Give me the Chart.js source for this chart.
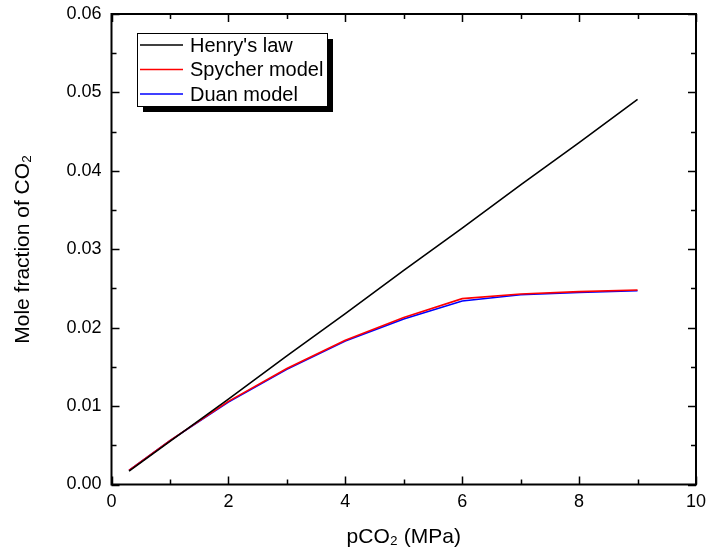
<!DOCTYPE html>
<html lang="en">
<head>
<meta charset="UTF-8">
<title>Mole fraction of CO2 vs pCO2</title>
<script src="https://cdn.jsdelivr.net/npm/chart.js"></script>
<style>
  html, body { margin: 0; padding: 0; background: #fff; }
</style>
</head>
<body>
<canvas id="myChart" width="706" height="556"></canvas>
<script>
// values
const pressure = [0.3, 1, 2, 3, 4, 5, 6, 7, 8, 9];
const henry = [0.0017, 0.0055, 0.0109, 0.0164, 0.0218, 0.0273, 0.0327, 0.0382, 0.0436, 0.0491];
const spycher = [0.0018, 0.0056, 0.0106, 0.0148, 0.0184, 0.0213, 0.0237, 0.0243, 0.0246, 0.0248];
const duan = [0.0018, 0.0056, 0.0105, 0.0147, 0.0183, 0.0211, 0.0234, 0.0242, 0.0245, 0.0247];
const seriesNames = ["Henry's law", 'Spycher model', 'Duan model'];
const xTicks = [0, 2, 4, 6, 8, 10];
const yTicks = [0, 0.01, 0.02, 0.03, 0.04, 0.05, 0.06];

const FONT = "'Liberation Sans', Arial, sans-serif";

function points(ys) {
  return pressure.map((p, i) => ({ x: p, y: ys[i] }));
}

// box frame with inward major/minor ticks on all four sides
const frameTicks = {
  id: 'frameTicks',
  afterDraw(chart) {
    const { ctx, chartArea: a, scales } = chart;
    const sx = scales.x, sy = scales.y;
    ctx.save();
    ctx.strokeStyle = '#000';
    ctx.lineWidth = 1.5;
    ctx.beginPath();
    for (let v = 0; v <= 10; v += 1) {
      const px = Math.round(sx.getPixelForValue(v)) + 0.5;
      const len = v % 2 === 0 ? 8 : 5;
      ctx.moveTo(px, a.bottom); ctx.lineTo(px, a.bottom - len);
      ctx.moveTo(px, a.top); ctx.lineTo(px, a.top + len);
    }
    for (let k = 0; k <= 12; k++) {
      const py = Math.round(sy.getPixelForValue(k * 0.005)) + 0.5;
      const len = k % 2 === 0 ? 8 : 5;
      ctx.moveTo(a.left, py); ctx.lineTo(a.left + len, py);
      ctx.moveTo(a.right, py); ctx.lineTo(a.right - len, py);
    }
    ctx.stroke();
    ctx.lineWidth = 2;
    ctx.strokeRect(a.left, a.top, a.right - a.left, a.bottom - a.top);
    ctx.restore();
  }
};

// legend box with drop shadow in the upper left
const boxLegend = {
  id: 'boxLegend',
  afterDraw(chart) {
    const ctx = chart.ctx;
    const x0 = 137, y0 = 33, w = 190, h = 73, sh = 6;
    ctx.save();
    ctx.fillStyle = '#000';
    ctx.fillRect(x0 + sh, y0 + sh, w, h);
    ctx.fillStyle = '#fff';
    ctx.fillRect(x0, y0, w, h);
    ctx.strokeStyle = '#000';
    ctx.lineWidth = 1;
    ctx.strokeRect(x0 + 0.5, y0 + 0.5, w, h);
    ctx.font = '20px ' + FONT;
    ctx.textBaseline = 'middle';
    chart.data.datasets.forEach((ds, i) => {
      const y = y0 + 12 + i * 24.5;
      ctx.strokeStyle = ds.borderColor;
      ctx.lineWidth = 1.5;
      ctx.beginPath();
      ctx.moveTo(x0 + 3, y); ctx.lineTo(x0 + 46, y);
      ctx.stroke();
      ctx.fillStyle = '#000';
      ctx.fillText(ds.label, x0 + 53, y + 1);
    });
    ctx.restore();
  }
};

const ctx = document.getElementById('myChart').getContext('2d');
const myChart = new Chart(ctx, {
  type: 'scatter',
  data: {
    datasets: [
      { label: seriesNames[0], data: points(henry), borderColor: '#000000' },
      { label: seriesNames[1], data: points(spycher), borderColor: '#ff0000' },
      { label: seriesNames[2], data: points(duan), borderColor: '#0000ff' }
    ]
  },
  options: {
    responsive: false,
    animation: false,
    devicePixelRatio: 1,
    showLine: true,
    elements: {
      line: { borderWidth: 1.6, tension: 0 },
      point: { radius: 0, hoverRadius: 0 }
    },
    layout: { padding: { top: 14, right: 10, left: 0, bottom: 0 } },
    plugins: {
      legend: { display: false },
      tooltip: { enabled: false }
    },
    scales: {
      x: {
        type: 'linear',
        min: 0,
        max: 10,
        afterBuildTicks: s => { s.ticks = xTicks.map(v => ({ value: v })); },
        afterFit: s => { s.height = 71.5; s.paddingLeft = 0; s.paddingRight = 0; },
        grid: { display: false, drawTicks: false },
        border: { display: false },
        ticks: { color: '#000', padding: 7, font: { family: FONT, size: 18 } },
        title: {
          display: true,
          text: 'pCO₂ (MPa)',
          color: '#000',
          font: { family: FONT, size: 21 },
          padding: { top: 0, bottom: 6 }
        }
      },
      y: {
        type: 'linear',
        min: 0,
        max: 0.06,
        afterBuildTicks: s => { s.ticks = yTicks.map(v => ({ value: v })); },
        afterFit: s => { s.width = 111.5; s.paddingTop = 0; s.paddingBottom = 0; },
        grid: { display: false, drawTicks: false },
        border: { display: false },
        ticks: {
          color: '#000',
          padding: 10,
          font: { family: FONT, size: 18 },
          callback: v => v.toFixed(2)
        },
        title: {
          display: true,
          text: 'Mole fraction of CO₂',
          color: '#000',
          font: { family: FONT, size: 21 },
          padding: { top: 11, bottom: 0 }
        }
      }
    }
  },
  plugins: [frameTicks, boxLegend]
});
</script>
</body>
</html>
